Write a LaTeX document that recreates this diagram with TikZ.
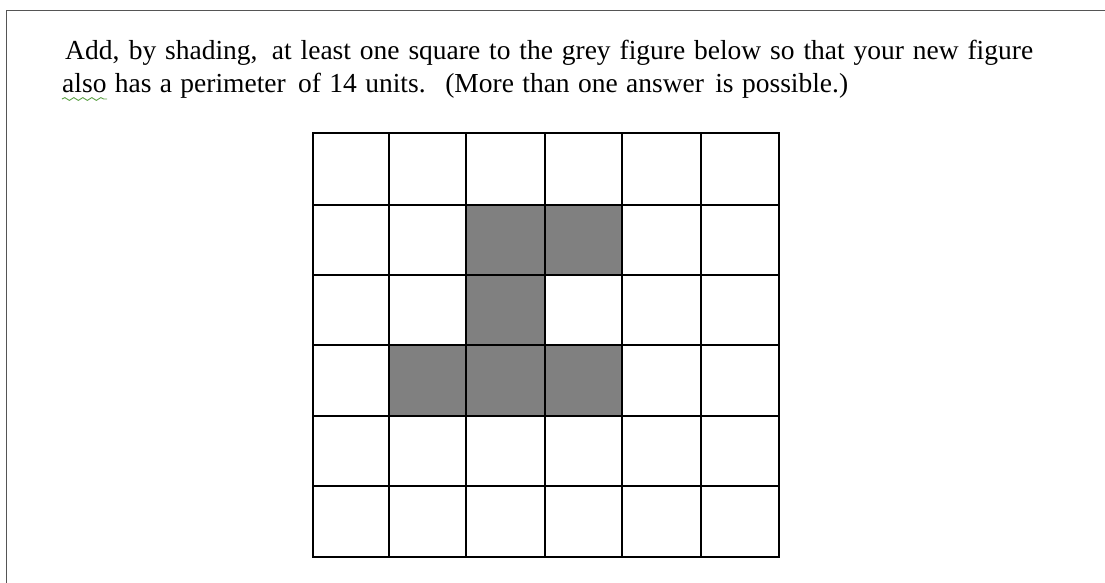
\documentclass[tikz,border=0pt]{standalone}
\usepackage{fontspec}
\setmainfont{Liberation Serif}
\usetikzlibrary{decorations.pathmorphing}
\definecolor{cellgrey}{HTML}{808080}
\definecolor{framegrey}{HTML}{555555}
\definecolor{squiggle}{HTML}{5BA044}
\begin{document}
\begin{tikzpicture}[x=1pt,y=-1pt,
  frameline/.style={line width=1.6pt, framegrey},
  gridline/.style={line width=2pt, black, line cap=rect},
  greycell/.style={fill=cellgrey},
  qtext/.style={anchor=base west, inner sep=0pt, font=\fontsize{27.5}{30}\selectfont},
  spell/.style={squiggle, line width=0.9pt, decorate, decoration={snake, amplitude=1.4pt, segment length=9pt}}]
\useasboundingbox (0,0) rectangle (1105,583);
% outer frame (top and left only)
\draw[frameline] (6.5,583) -- (6.5,10.5) -- (1105,10.5);
% text
\node[qtext] (l1) at (65,60) {\makebox[968pt][s]{Add, by shading,\hspace{5pt} at least one square to the grey figure below so that your new figure}};
\node[qtext] (l2) at (62,93) {\makebox[786pt][s]{also has a perimeter\hspace{4pt} of 14 units.\hspace{6pt} (More than one answer\hspace{3pt} is possible.)}};
\coordinate (sqa) at (62,99);
\coordinate (sqb) at (107,99);
\draw[spell] (sqa) -- (sqb);
% grid coordinates
\coordinate (c0) at (312.5,0); \coordinate (c1) at (388.5,0); \coordinate (c2) at (466,0);
\coordinate (c3) at (544.5,0); \coordinate (c4) at (622,0); \coordinate (c5) at (700.5,0);
\coordinate (c6) at (778.5,0);
\coordinate (r0) at (0,133.5); \coordinate (r1) at (0,204.5); \coordinate (r2) at (0,274.5);
\coordinate (r3) at (0,345); \coordinate (r4) at (0,415.5); \coordinate (r5) at (0,486);
\coordinate (r6) at (0,556.5);
% grey cells
\fill[greycell] (c2|-r1) rectangle (c4|-r2);
\fill[greycell] (c2|-r2) rectangle (c3|-r3);
\fill[greycell] (c1|-r3) rectangle (c4|-r4);
% grid lines
\foreach \i in {0,...,6} {
  \draw[gridline] (c\i|-r0) -- (c\i|-r6);
  \draw[gridline] (c0|-r\i) -- (c6|-r\i);
}
\end{tikzpicture}
\end{document}
